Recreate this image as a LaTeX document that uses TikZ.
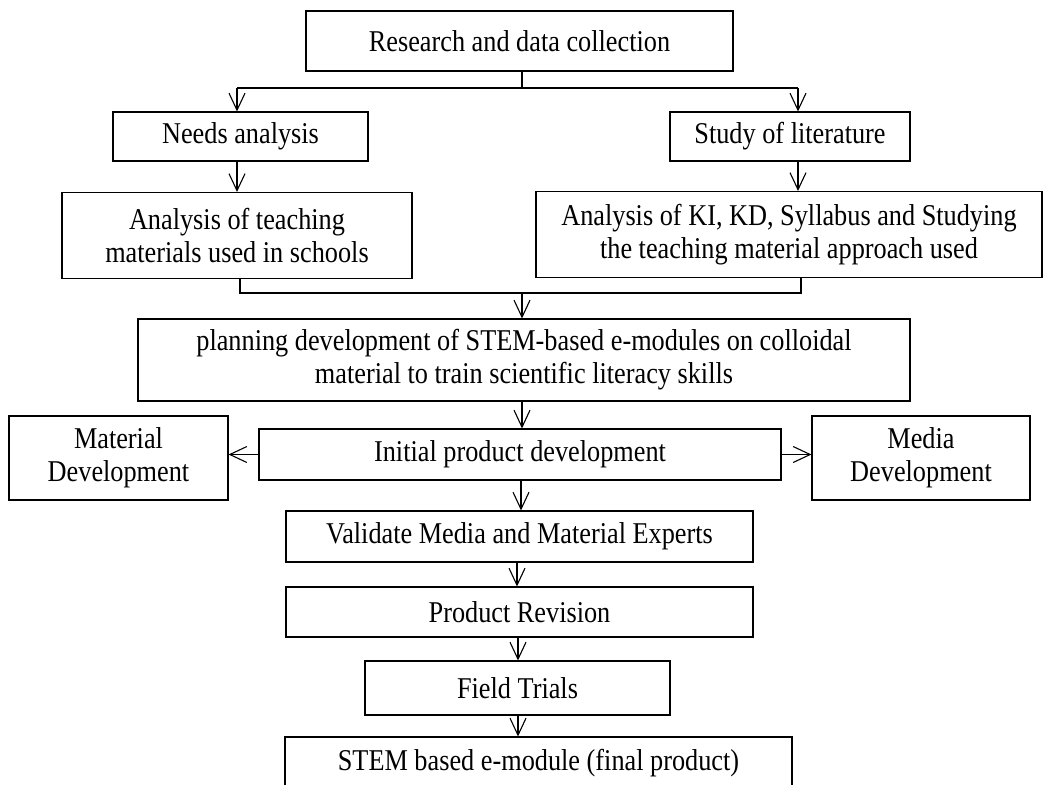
\documentclass[tikz,border=0pt]{standalone}
\usepackage{fontspec}
\setmainfont[FakeStretch=0.87]{Liberation Serif}
\usetikzlibrary{arrows.meta}
\begin{document}
\begin{tikzpicture}[x=1pt,y=-1pt,
  box/.style={draw=black,line width=1.1pt,rectangle,inner sep=0pt,align=center,
    font=\fontsize{30.2}{33}\selectfont},
  arr/.style={line width=1.1pt,-{Straight Barb[length=17pt,width=16pt,line width=1.1pt]}},
  ln/.style={line width=1.1pt}]
\useasboundingbox (0,0) rectangle (1043,784);
\node[box,minimum width=427pt,minimum height=60pt] (n1) at (519.5,41) {Research and data collection};
\node[box,minimum width=255pt,minimum height=49pt] (needs) at (240.5,136.5) {Needs analysis};
\node[box,minimum width=240pt,minimum height=49pt] (study) at (790,136.5) {Study of literature};
\node[box,minimum width=350pt,minimum height=86pt] (teach) at (237,235.5) {Analysis of teaching\\materials used in schools};
\node[box,minimum width=506pt,minimum height=86pt] (ki) at (789,234.5) {Analysis of KI, KD, Syllabus and Studying\\the teaching material approach used};
\node[box,minimum width=772pt,minimum height=82pt] (plan) at (524,360) {planning development of STEM-based e-modules on colloidal\\material to train scientific literacy skills};
\node[box,minimum width=522pt,minimum height=51pt] (init) at (520,454.5) {Initial product development};
\node[box,minimum width=219pt,minimum height=84pt] (mat) at (118.5,458) {Material\\Development};
\node[box,minimum width=218pt,minimum height=84pt] (media) at (921,458) {Media\\Development};
\node[box,minimum width=467pt,minimum height=51pt] (valid) at (519.5,536.5) {Validate Media and Material Experts};
\node[box,minimum width=467pt,minimum height=50pt] (rev) at (519.5,612) {Product Revision};
\node[box,minimum width=305pt,minimum height=54pt] (field) at (517.5,688) {Field Trials};
\node[box,minimum width=507pt,minimum height=52pt] (final) at (538.5,763) {STEM based e-module (final product)};
% branch at top
\coordinate (bL) at (237,88);
\coordinate (bR) at (798,88);
\coordinate (bC) at (522,88);
\draw[ln] (bL) -- (bR);
\draw[ln] (bC |- n1.south) -- (bC);
\draw[arr] (bL) -- (bL |- needs.north);
\draw[arr] (bR) -- (bR |- study.north);
\draw[arr] (bL |- needs.south) -- (bL |- teach.north);
\draw[arr] (bR |- study.south) -- (bR |- ki.north);
% merge
\coordinate (mL) at (240,293);
\coordinate (mR) at (801,293);
\coordinate (mC) at (522,293);
\draw[ln] (mL |- teach.south) -- (mL) -- (mR) -- (mR |- ki.south);
\draw[arr] (mC) -- (mC |- plan.north);
% middle
\coordinate (cA) at (522,0);
\draw[arr] (cA |- plan.south) -- (cA |- init.north);
\draw[arr] (init.west) -- (mat.east |- init.west);
\draw[arr] (init.east) -- (media.west |- init.east);
\coordinate (cB) at (521,0);
\coordinate (cC) at (517,0);
\coordinate (cD) at (518,0);
\draw[arr] (cB |- init.south) -- (cB |- valid.north);
\draw[arr] (cC |- valid.south) -- (cC |- rev.north);
\draw[arr] (cD |- rev.south) -- (cD |- field.north);
\draw[arr] (cD |- field.south) -- (cD |- final.north);
\end{tikzpicture}
\end{document}
